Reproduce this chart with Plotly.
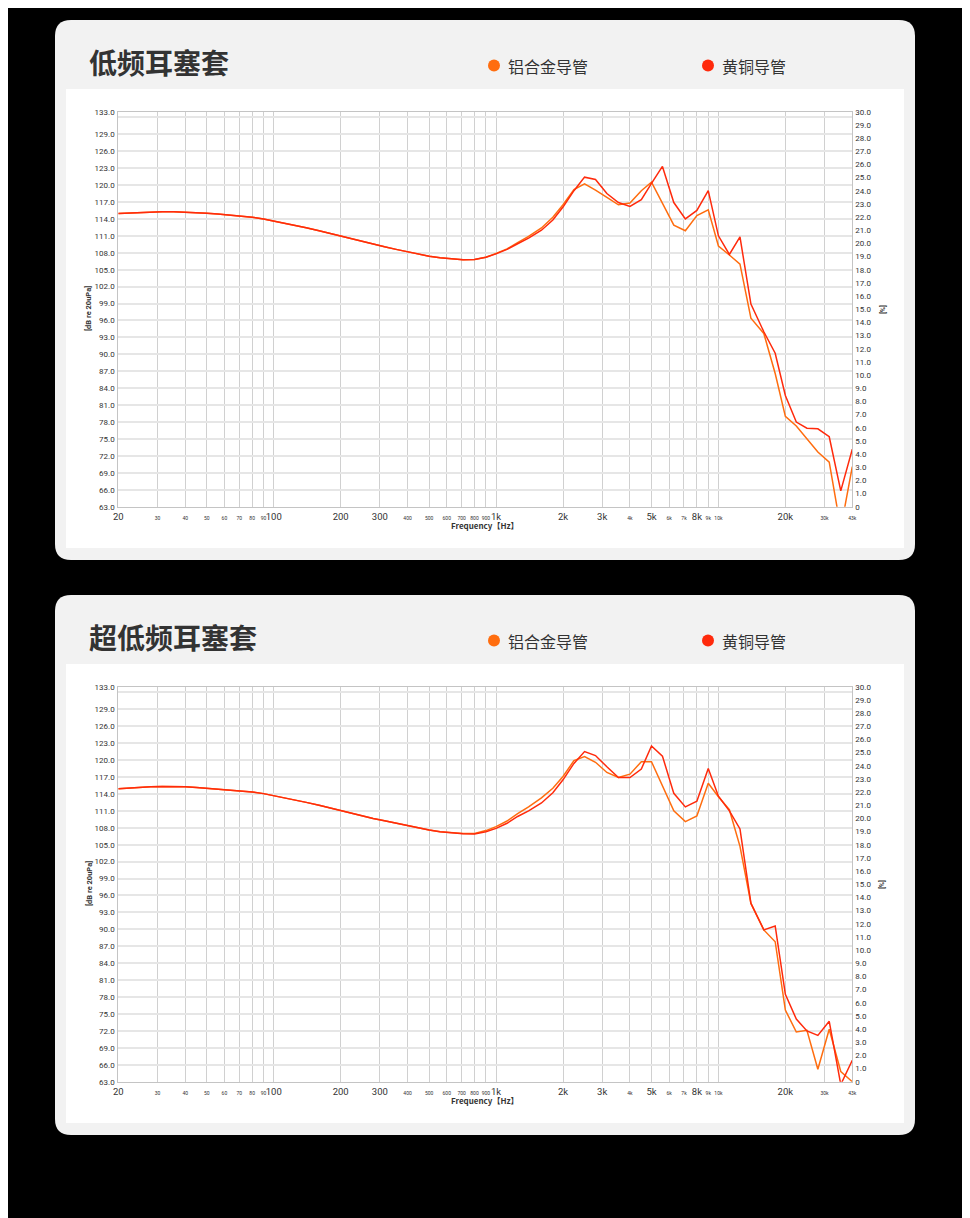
import plotly.graph_objects as go

W, H = 970, 1218
PAGE_PAD = 8  # browser body margin, content is shifted back by it

# 1/6 octave frequency points (Hz)
FREQ = [20, 22.4, 25, 28, 31.5, 35.5, 40, 45, 50, 56, 63, 71, 80, 90,
        100, 112, 125, 140, 160, 180, 200, 224, 250, 280, 315, 355, 400, 450, 500, 560, 630, 710, 800, 900,
        1000, 1120, 1250, 1400, 1600, 1800, 2000, 2240, 2500, 2800, 3150, 3550, 4000, 4500, 5000, 5600, 6300, 7100, 8000, 9000,
        10000, 11200, 12500, 14000, 16000, 18000, 20000, 22400, 25000, 28000, 31500, 35500, 40000]

# 低频耳塞套
LOW_ALU = [114.95, 115.05, 115.15, 115.2, 115.25, 115.25, 115.2, 115.1, 115.0, 114.85, 114.7, 114.5, 114.3, 114.0,
           113.65, 113.3, 112.9, 112.45, 111.9, 111.4, 110.85, 110.4, 109.95, 109.5, 109.05, 108.6, 108.15, 107.75, 107.4, 107.1, 106.9, 106.75, 106.8, 107.2,
           107.9, 108.7, 109.8, 110.9, 112.4, 114.3, 116.5, 119.2, 120.2, 119.1, 117.8, 116.5, 116.8, 119.0, 120.5, 116.8, 112.9, 111.9, 114.6, 115.6,
           109.2, 107.6, 106.0, 96.4, 93.7, 86.6, 79.0, 77.3, 75.1, 72.7, 70.9, 59.1, 70.1]
LOW_BRASS = [114.95, 115.05, 115.15, 115.2, 115.25, 115.25, 115.2, 115.1, 115.0, 114.85, 114.7, 114.5, 114.3, 114.0,
             113.65, 113.3, 112.9, 112.45, 111.9, 111.4, 110.85, 110.4, 109.95, 109.5, 109.05, 108.6, 108.15, 107.75, 107.4, 107.1, 106.9, 106.75, 106.8, 107.2,
             107.8, 108.6, 109.6, 110.6, 112.0, 113.8, 116.1, 119.0, 121.4, 121.0, 118.5, 116.9, 116.2, 117.4, 120.3, 123.3, 116.9, 114.0, 115.5, 119.0,
             111.0, 107.7, 110.8, 98.9, 94.0, 90.2, 82.7, 78.0, 76.9, 76.8, 75.4, 65.8, 73.2]

# 超低频耳塞套
ULTRA_ALU = [114.9, 115.05, 115.15, 115.25, 115.3, 115.3, 115.25, 115.15, 115.0, 114.9, 114.75, 114.55, 114.35, 114.05,
             113.7, 113.35, 112.95, 112.5, 112.0, 111.5, 110.95, 110.5, 110.1, 109.65, 109.25, 108.8, 108.35, 107.95, 107.6, 107.3, 107.15, 107.0, 107.0, 107.5,
             108.2, 109.2, 110.5, 111.7, 113.3, 115.0, 117.1, 119.9, 120.6, 119.6, 117.8, 116.9, 117.5, 119.7, 119.7, 115.3, 111.0, 109.1, 110.1, 115.9,
             113.5, 111.2, 104.7, 94.6, 89.9, 87.8, 75.7, 71.8, 72.1, 65.2, 72.3, 64.8, 63.0]
ULTRA_BRASS = [114.9, 115.05, 115.15, 115.25, 115.3, 115.3, 115.25, 115.15, 115.0, 114.9, 114.75, 114.55, 114.35, 114.05,
               113.7, 113.35, 112.95, 112.5, 112.0, 111.5, 110.95, 110.5, 110.1, 109.65, 109.25, 108.8, 108.35, 107.95, 107.6, 107.3, 107.1, 106.95, 106.9, 107.3,
               107.9, 108.8, 110.0, 111.0, 112.4, 114.2, 116.5, 119.4, 121.5, 120.8, 118.8, 116.9, 116.9, 118.4, 122.5, 120.7, 114.1, 111.7, 112.7, 118.5,
               113.6, 111.0, 107.8, 94.6, 89.9, 90.6, 78.5, 74.1, 72.0, 71.2, 73.7, 62.5, 66.8]

TITLES = ["低频耳塞套", "超低频耳塞套"]
SERIES_NAMES = ["铝合金导管", "黄铜导管"]

X_TICKS = [20, 30, 40, 50, 60, 70, 80, 90, 100, 200, 300, 400, 500, 600, 700, 800, 900,
           1000, 2000, 3000, 4000, 5000, 6000, 7000, 8000, 9000, 10000, 20000, 30000, 40000]
X_LABELS = ["20", "30", "40", "50", "60", "70", "80", "90", "100", "200", "300", "400", "500", "600", "700", "800", "900",
            "1k", "2k", "3k", "4k", "5k", "6k", "7k", "8k", "9k", "10k", "20k", "30k", "43k"]
X_BIG = ["20", "100", "200", "300", "1k", "2k", "3k", "5k", "8k", "20k"]

Y_TICKS = [63, 66, 69, 72, 75, 78, 81, 84, 87, 90, 93, 96, 99, 102, 105, 108, 111, 114, 117, 120, 123, 126, 129, 132, 133]
R_TICKS = list(range(0, 31))

ORANGE = "#ff6d0f"
RED = "#ff2a0c"
TXT = "#333333"


def px(x):
    return (x - PAGE_PAD) / W


def py(y):
    return 1 - (y - PAGE_PAD) / H


def rounded(x0, y0, x1, y1, r):
    # path in paper coords from pixel box
    pts = [
        f"M{px(x0 + r)},{py(y0)}",
        f"L{px(x1 - r)},{py(y0)}",
        f"Q{px(x1)},{py(y0)} {px(x1)},{py(y0 + r)}",
        f"L{px(x1)},{py(y1 - r)}",
        f"Q{px(x1)},{py(y1)} {px(x1 - r)},{py(y1)}",
        f"L{px(x0 + r)},{py(y1)}",
        f"Q{px(x0)},{py(y1)} {px(x0)},{py(y1 - r)}",
        f"L{px(x0)},{py(y0 + r)}",
        f"Q{px(x0)},{py(y0)} {px(x0 + r)},{py(y0)}",
        "Z",
    ]
    return " ".join(pts)


x_text = [f'<span style="font-size:9.5px">{t}</span>' if t in X_BIG else f'<span style="font-size:5px">{t}</span>'
          for t in X_LABELS]
y_text = ["" if v == 132 else f"{v:.1f}" for v in Y_TICKS]
r_text = ["0" if v == 0 else f"{v:.1f}" for v in R_TICKS]

fig = go.Figure()
shapes = []
annotations = []

panels = [(LOW_ALU, LOW_BRASS), (ULTRA_ALU, ULTRA_BRASS)]

for i, (alu, brass) in enumerate(panels):
    off = 575 * i
    n = i + 1
    xa = "x" if n == 1 else f"x{n}"
    yl = "y" if n == 1 else f"y{2 * n - 1}"
    yr = f"y{2 * n}"
    top, bot = 111.7 + off, 506.7 + off

    fig.add_trace(go.Scatter(x=FREQ, y=alu, xaxis=xa, yaxis=yl, mode="lines",
                             line=dict(color=ORANGE, width=1.5), showlegend=False))
    fig.add_trace(go.Scatter(x=FREQ, y=brass, xaxis=xa, yaxis=yl, mode="lines",
                             line=dict(color=RED, width=1.5), showlegend=False))
    # keeps the right-hand axis alive
    fig.add_trace(go.Scatter(x=[FREQ[0]], y=[None], xaxis=xa, yaxis=yr, mode="lines",
                             showlegend=False, hoverinfo="skip"))

    xkey = "xaxis" if n == 1 else f"xaxis{n}"
    ylkey = "yaxis" if n == 1 else f"yaxis{2 * n - 1}"
    yrkey = f"yaxis{2 * n}"

    fig.layout[xkey] = dict(
        type="log", range=[1.30103, 4.60206], domain=[px(118.3), px(852.3)],
        anchor=yl, tickvals=X_TICKS, ticktext=x_text, tickangle=0,
        tickfont=dict(family="Roboto", size=9, color=TXT),
        showgrid=True, gridcolor="#d0d0d0", gridwidth=1,
        showline=True, mirror=True, linecolor="#c4c4c4", linewidth=1,
        zeroline=False, ticks="", ticklabelstandoff=1, automargin=False)
    fig.layout[ylkey] = dict(
        range=[63, 133], domain=[py(bot), py(top)], anchor=xa,
        tickvals=Y_TICKS, ticktext=y_text,
        tickfont=dict(family="Roboto", size=8, color=TXT),
        showgrid=True, gridcolor="#e6e6e6", gridwidth=2,
        showline=True, mirror=True, linecolor="#c4c4c4", linewidth=1,
        zeroline=False, ticks="", ticklabelstandoff=1, automargin=False)
    fig.layout[yrkey] = dict(
        range=[0, 30], overlaying=yl, side="right", anchor=xa,
        tickvals=R_TICKS, ticktext=r_text,
        tickfont=dict(family="Roboto", size=8, color=TXT),
        showgrid=False, zeroline=False, showline=False, ticks="",
        ticklabelstandoff=2, automargin=False)

    # panel backgrounds
    shapes.append(dict(type="path", xref="paper", yref="paper", layer="below",
                       path=rounded(55, 20 + off, 915, 560 + off, 16),
                       fillcolor="#f2f2f2", line=dict(width=0)))
    shapes.append(dict(type="rect", xref="paper", yref="paper", layer="below",
                       x0=px(66), x1=px(904), y0=py(548 + off), y1=py(89 + off),
                       fillcolor="white", line=dict(width=0)))

    # legend dots
    for cx, col in [(494, ORANGE), (708, RED)]:
        shapes.append(dict(type="circle", xref="paper", yref="paper",
                           x0=px(cx - 6), x1=px(cx + 6), y0=py(65.5 + off + 6), y1=py(65.5 + off - 6),
                           fillcolor=col, line=dict(width=0)))

    annotations.append(dict(text=f"<b>{TITLES[i]}</b>", x=px(87), y=py(62 + off), xref="paper", yref="paper",
                            xanchor="left", yanchor="middle", showarrow=False,
                            font=dict(family="Noto Sans CJK SC", size=28, color=TXT)))
    for tx, name in [(506, SERIES_NAMES[0]), (720, SERIES_NAMES[1])]:
        annotations.append(dict(text=name, x=px(tx), y=py(66 + off), xref="paper", yref="paper",
                                xanchor="left", yanchor="middle", showarrow=False,
                                font=dict(family="Noto Sans CJK SC", size=16, color=TXT)))

    annotations.append(dict(text="<b>Frequency【Hz】</b>", x=px(485), y=py(525 + off), xref="paper", yref="paper",
                            xanchor="center", yanchor="middle", showarrow=False,
                            font=dict(family="Noto Sans CJK SC", size=8, color=TXT)))
    annotations.append(dict(text="<b>[dB re 20uPa]</b>", x=px(89), y=py(309 + off), xref="paper", yref="paper",
                            xanchor="center", yanchor="middle", showarrow=False, textangle=-90,
                            font=dict(family="Roboto", size=7.5, color=TXT)))
    annotations.append(dict(text="<b>[%]</b>", x=px(882), y=py(309 + off), xref="paper", yref="paper",
                            xanchor="center", yanchor="middle", showarrow=False, textangle=90,
                            font=dict(family="Roboto", size=7, color=TXT)))

fig.update_layout(
    width=W, height=H, autosize=False,
    margin=dict(l=0, r=0, t=0, b=0),
    paper_bgcolor="black", plot_bgcolor="white",
    shapes=shapes, annotations=annotations,
    showlegend=False,
)

fig.write_html("out.html")
